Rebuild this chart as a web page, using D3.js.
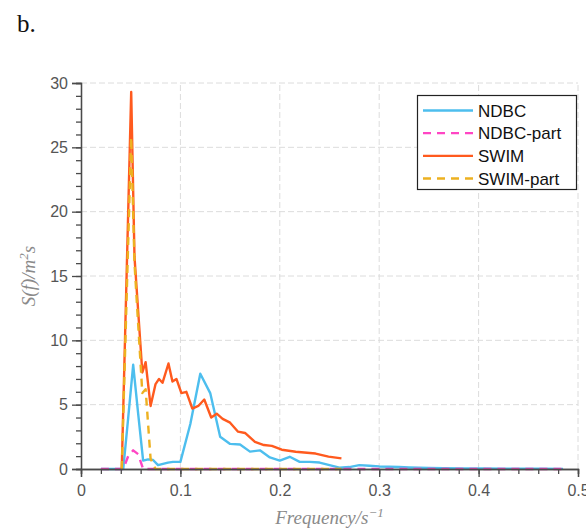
<!DOCTYPE html>
<html><head><meta charset="utf-8">
<script src="https://cdn.jsdelivr.net/npm/d3@7"></script>
<style>body{margin:0;background:#fff;}svg{display:block;}</style>
</head><body>
<svg id="c" width="586" height="531"></svg>
<script>
// ---- data ----
const ndbcFreq = [0.02,0.0325,0.0375,0.0425,0.0475,0.0525,0.0575,0.0625,0.0675,0.0725,0.0775,0.0825,0.0875,0.0925,0.10,0.11,0.12,0.13,0.14,0.15,0.16,0.17,0.18,0.19,0.20,0.21,0.22,0.23,0.24,0.25,0.26,0.27,0.28,0.29,0.30,0.31,0.32,0.33,0.34,0.35,0.365,0.385,0.405,0.425,0.445,0.465,0.485];
const ndbcVal  = [0,0,0,0,4.0,8.1,4.3,0.65,0.75,0.7,0.3,0.4,0.5,0.55,0.55,3.5,7.4,5.9,2.5,1.95,1.9,1.35,1.45,0.9,0.65,0.95,0.55,0.55,0.5,0.3,0.1,0.15,0.3,0.25,0.2,0.18,0.15,0.12,0.1,0.08,0.06,0.05,0.04,0.03,0.02,0.02,0.01];
const ndbcPartVal = [0,0,0,0,1.0,1.45,1.15,0,0,0,0,0,0,0,0,0,0,0,0,0,0,0,0,0,0,0,0,0,0,0,0,0,0,0,0,0,0,0,0,0,0,0,0,0,0,0,0];
const swimFreq = [0.041,0.0505,0.0538,0.0617,0.065,0.070,0.075,0.0785,0.082,0.088,0.092,0.096,0.101,0.106,0.112,0.118,0.124,0.131,0.1365,0.1425,0.150,0.158,0.165,0.175,0.184,0.192,0.202,0.216,0.236,0.249,0.262];
const swimVal  = [0,29.3,16.5,7.5,8.3,4.9,6.6,7.0,6.7,8.2,6.8,7.0,5.9,6.0,4.7,4.9,5.4,4.0,4.3,3.9,3.6,2.9,2.8,2.1,1.86,1.8,1.5,1.34,1.2,0.96,0.83];
const swimPartVal = [0,25.8,16.0,5.9,6.2,0.8,0,0,0,0,0,0,0,0,0,0,0,0,0,0,0,0,0,0,0,0,0,0,0,0,0];
const seriesNames = ["NDBC","NDBC-part","SWIM","SWIM-part"];
const xTicks = [0,0.1,0.2,0.3,0.4,0.5];
const yTicks = [0,5,10,15,20,25,30];

// ---- layout ----
const svg = d3.select("#c");
const L = 81, R = 578, T = 83, B = 469;
const x = d3.scaleLinear().domain([0,0.5]).range([L,R]);
const y = d3.scaleLinear().domain([0,30]).range([B,T]);
const axisCol = "#4a4a4a";
const font = "'Liberation Sans', Arial, Helvetica, sans-serif";
const serif = "'Liberation Serif','Times New Roman',serif";

// grid
const g = svg.append("g");
g.selectAll(".gx").data(xTicks.filter(d=>d>0)).enter().append("line")
  .attr("x1",d=>x(d)).attr("x2",d=>x(d)).attr("y1",B).attr("y2",T)
  .attr("stroke","#dcdcdc").attr("stroke-width",1).attr("stroke-dasharray","6,3");
g.selectAll(".gy").data(yTicks.filter(d=>d>0)).enter().append("line")
  .attr("x1",L).attr("x2",R).attr("y1",d=>y(d)).attr("y2",d=>y(d))
  .attr("stroke","#dcdcdc").attr("stroke-width",1).attr("stroke-dasharray","6,3");

// series
const series = [
  {name:seriesNames[0], f:ndbcFreq, v:ndbcVal, color:"#4DBEEE", dash:null},
  {name:seriesNames[1], f:ndbcFreq, v:ndbcPartVal, color:"#FF45C4", dash:"8,6"},
  {name:seriesNames[2], f:swimFreq, v:swimVal, color:"#FF5A1E", dash:null},
  {name:seriesNames[3], f:swimFreq, v:swimPartVal, color:"#EDB120", dash:"8,6"}
];
const line = d3.line().x(d=>x(d[0])).y(d=>y(d[1]));
series.forEach(s=>{
  svg.append("path").datum(s.f.map((f,i)=>[f,s.v[i]]))
    .attr("d",line).attr("fill","none").attr("stroke",s.color)
    .attr("stroke-width",2.4).attr("stroke-linejoin","round")
    .attr("stroke-dasharray",s.dash);
});

// axes
function styleAxis(sel){
  sel.select(".domain").attr("stroke",axisCol).attr("stroke-width",1.3);
  sel.selectAll(".tick line").attr("stroke",axisCol).attr("stroke-width",1.3);
  sel.selectAll("text").attr("fill","#555").style("font-family",font).style("font-size","16px");
}
const yMinor = svg.append("g").attr("transform",`translate(${L},0)`)
  .call(d3.axisLeft(y).tickValues(d3.range(0,31,1)).tickSize(5).tickFormat(""));
styleAxis(yMinor);
const yMajor = svg.append("g").attr("transform",`translate(${L},0)`)
  .call(d3.axisLeft(y).tickValues(yTicks).tickSize(9).tickPadding(4).tickFormat(d3.format("d")));
styleAxis(yMajor);
const xMinor = svg.append("g").attr("transform",`translate(0,${B})`)
  .call(d3.axisBottom(x).tickValues(d3.range(0,0.5001,0.02)).tickSize(5).tickFormat(""));
styleAxis(xMinor);
const xMajor = svg.append("g").attr("transform",`translate(0,${B})`)
  .call(d3.axisBottom(x).tickValues(xTicks).tickSize(8).tickPadding(8).tickFormat(d=>d===0?"0":d3.format(".1f")(d)));
styleAxis(xMajor);

// axis labels
const yl = svg.append("text").attr("transform",`translate(35,${(T+B)/2}) rotate(-90)`)
  .attr("text-anchor","middle").attr("fill","#8a8a8a")
  .style("font-family",serif).style("font-style","italic").style("font-size","19px");
yl.append("tspan").text("S(f)/m");
yl.append("tspan").attr("dy",-7).style("font-size","13px").text("2");
yl.append("tspan").attr("dy",7).text("s");

const xl = svg.append("text").attr("x",(L+R)/2).attr("y",524)
  .attr("text-anchor","middle").attr("fill","#8a8a8a")
  .style("font-family",serif).style("font-style","italic").style("font-size","19px");
xl.append("tspan").text("Frequency/s");
xl.append("tspan").attr("dy",-7).style("font-size","13px").text("−1");

// panel label
svg.append("text").attr("x",17).attr("y",32).text("b.")
  .style("font-family",serif).style("font-size","25px").attr("fill","#111");

// legend
const lg = svg.append("g");
lg.append("rect").attr("x",417.5).attr("y",95.5).attr("width",159).attr("height",94)
  .attr("fill","#fff").attr("stroke","#222").attr("stroke-width",1.2);
const rowY = d3.scalePoint().domain(seriesNames).range([110.5,178.5]);
series.forEach(s=>{
  const yy = rowY(s.name);
  lg.append("line").attr("x1",423).attr("x2",473).attr("y1",yy).attr("y2",yy)
    .attr("stroke",s.color).attr("stroke-width",2.4).attr("stroke-dasharray",s.dash);
  lg.append("text").attr("x",478).attr("y",yy).attr("dy","0.36em").text(s.name)
    .style("font-family",font).style("font-size","17px").attr("fill","#111");
});
</script>
</body></html>
